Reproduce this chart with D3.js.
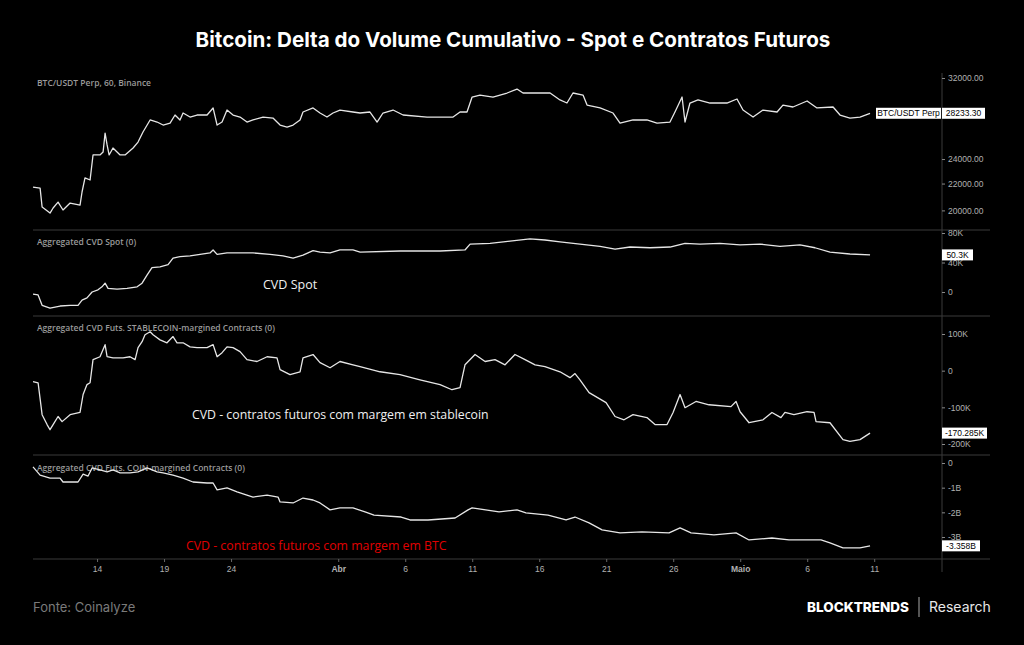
<!DOCTYPE html>
<html>
<head>
<meta charset="utf-8">
<script src="https://cdn.jsdelivr.net/npm/d3@7"></script>
<style>
  body { margin: 0; background: #000; }
  svg { display: block; }
  text { font-family: "Open Sans", "Noto Sans", sans-serif; }
</style>
</head>
<body>
<script>
// days counted from 1 Mar 2023 00:00 UTC
const priceDays = [8.22,8.75,8.9,9.49,9.72,10.09,10.46,10.99,11.73,11.88,12.1,12.48,12.7,13.22,13.45,13.6,13.75,13.9,14.19,14.72,15.09,15.69,16.06,16.43,16.96,17.48,17.93,18.45,18.82,19.19,19.42,19.94,20.46,21.21,21.66,21.96,22.33,22.7,23.15,23.67,24.19,24.64,25.39,26.13,26.66,27.18,27.63,28.15,28.37,29.12,29.64,30.16,30.61,31.13,32.1,32.63,33.37,33.9,34.34,35.09,35.84,37.63,39.57,40.09,40.61,40.99,41.58,42.55,43.6,44.34,44.79,45.54,46.81,47.55,48.07,48.52,49.27,49.57,50.54,51.51,52.03,53,54.04,54.79,55.76,56.13,56.66,56.88,57.25,57.85,58.75,60.01,60.76,61.21,61.96,62.7,63.75,64.19,64.94,65.99,66.73,67.93,68.45,69.19,69.94,70.69];
const priceValues = [21730,21650,20240,19810,20170,20600,20030,20530,20380,21350,22440,22280,24350,24350,24600,26320,25230,24350,24960,24350,24350,24960,25490,26420,27570,27370,27080,27270,28060,27570,28260,27860,28060,28060,28770,27080,27370,28560,28060,27860,27370,27570,27860,27760,27080,26890,27080,27570,28360,28770,28260,27860,28260,28560,28360,28260,28360,27370,28260,28560,28060,27860,27860,28360,28360,29910,30120,29910,30340,30770,30340,30340,30340,29600,29280,30340,30120,29070,28770,28260,27270,27570,27570,27270,27370,28360,29910,27370,29280,29600,29280,29280,29700,28560,27860,28560,28360,29070,28870,29490,28770,28870,28060,27760,27860,28233.3];

const spotDays = [8.22,8.6,8.9,9.49,10.24,10.99,11.58,11.88,12.25,12.63,13.07,13.37,13.6,13.82,14.49,15.24,15.99,16.36,16.73,17.1,17.7,18.3,18.67,19.19,19.94,20.69,21.43,21.66,21.96,22.7,23.67,24.64,25.91,26.88,27.63,28.37,29.12,29.64,30.39,31.13,32.1,32.63,35.61,38.6,40.46,40.84,42.33,43.82,45.31,46.43,47.55,49.04,50.54,51.66,52.78,54.27,55.76,56.88,58,59.49,60.99,62.48,63.97,65.46,66.58,67.7,69.19,70.69];
const spotValues = [-3,-4,-18,-22,-19,-18,-18,-11,-8,0,3,7,12,5,4,5,7,12,23,33,34,37,46,48,49,51,53,57,51,53,53,53,51,49,46,50,56,54,53,57,57,54,55.6,55.6,57,65,66,69,72,70.5,68,65,62,58,61,60,61,66,65,66,64,65,62,64,60,54,51.5,50.3];

const stableDays = [8.22,8.6,8.9,9.27,9.49,9.72,10.09,10.39,10.99,11.73,11.96,12.25,12.48,12.7,13.22,13.6,13.75,14.19,14.94,15.46,15.84,16.06,16.36,16.58,16.96,17.18,17.7,18.22,18.67,18.97,19.42,19.94,20.46,21.21,21.66,21.96,22.33,22.7,23.15,23.67,24.19,24.94,25.69,26.43,26.66,27.4,28.15,28.37,29.12,29.64,30.39,31.13,32.1,32.63,34.12,35.61,37.1,38.6,39.49,40.09,40.46,41.21,41.96,42.7,43.45,44.19,44.94,45.69,46.43,47.55,48.3,48.67,49.04,49.72,50.99,51.66,52.33,53,54.04,54.64,55.54,55.99,56.51,56.88,57.7,58.67,60.31,60.69,60.99,61.66,62.7,63.37,64.04,64.34,65.01,65.99,66.51,66.66,67.7,68.67,69.19,69.94,70.69];
const stableValues = [-30,-33,-120,-147,-161,-147,-125,-139,-120,-114,-65,-38,-33,30,38,71,38,35,35,38,30,63,79,98,106,98,84,76,93,76,76,65,63,63,71,38,49,65,63,52,30,25,38,35,3,-11,-3,35,44,22,8,25,16,11,-3,-11,-25,-38,-52,-46,16,44,25,30,16,44,30,16,11,-3,-19,-8,-25,-60,-87,-125,-134,-120,-128,-147,-147,-114,-65,-101,-84,-93,-98,-84,-112,-142,-134,-114,-128,-114,-120,-112,-114,-139,-142,-188,-193,-188,-170.285];

const coinDays = [8.22,8.75,9.49,10.24,10.46,11.58,11.96,12.33,12.63,13.22,13.75,14.19,14.72,15.46,16.06,16.73,17.48,17.93,18.67,19.42,20.16,21.21,21.66,21.96,22.7,23.45,24.64,25.69,26.51,26.66,27.63,28.37,29.12,29.64,30.39,31.13,32.1,33,33.67,35.69,36.36,37.7,39.72,40.69,40.99,43,44.34,45.01,46.66,48,48.67,49.72,50.69,52.03,53.67,55.69,56.51,57.33,59.04,60.69,61.66,63.37,64.64,65.99,67.03,67.7,68.67,69.94,70.69];
const coinValues = [-0.16,-0.49,-0.61,-0.61,-0.77,-0.77,-0.45,-0.53,-0.2,-0.28,-0.36,-0.28,-0.4,-0.4,-0.36,-0.2,-0.36,-0.4,-0.49,-0.61,-0.77,-0.81,-0.81,-1.09,-1.01,-1.17,-1.38,-1.3,-1.38,-1.58,-1.62,-1.42,-1.5,-1.62,-1.9,-1.82,-1.82,-1.98,-2.11,-2.19,-2.31,-2.31,-2.23,-1.9,-1.82,-1.98,-1.9,-2.02,-2.11,-2.31,-2.19,-2.43,-2.71,-2.83,-2.79,-2.83,-2.63,-2.83,-2.91,-2.83,-3.12,-3.04,-3.12,-3.12,-3.12,-3.24,-3.44,-3.44,-3.358];

const xTickDays = [13,18,23,31,36,41,46,51,56,61,66,71];
const xTickLabels = ["14","19","24","Abr","6","11","16","21","26","Maio","6","11"];

const priceTicks = [32000,24000,22000,20000];
const spotTicks = [80,40,0];
const stableTicks = [100,0,-100,-200];
const coinTicks = [0,-1,-2,-3];

const W = 1024, H = 645;
const t0 = Date.UTC(2023, 2, 1);
const toDate = d => new Date(t0 + d * 864e5);

const svg = d3.select("body").append("svg").attr("width", W).attr("height", H);
svg.append("rect").attr("width", W).attr("height", H).attr("fill", "#000");

const x = d3.scaleUtc().domain([toDate(8.22), toDate(76.06)]).range([33, 942]);

const gridColor = "#3a3a3a";
// pane separators
[230, 316, 455, 559].forEach(y => {
  svg.append("line").attr("x1", 33).attr("x2", 990).attr("y1", y).attr("y2", y)
    .attr("stroke", gridColor).attr("stroke-width", 1);
});
svg.append("line").attr("x1", 942).attr("x2", 942).attr("y1", 73).attr("y2", 572)
  .attr("stroke", gridColor).attr("stroke-width", 1);

// title
svg.append("text").attr("x", 513).attr("y", 47).attr("text-anchor", "middle")
  .attr("fill", "#fff").attr("font-size", 20.6).attr("font-weight", 700)
  .style("font-family", "Inter, sans-serif")
  .text("Bitcoin: Delta do Volume Cumulativo - Spot e Contratos Futuros");

const panes = [
  { days: priceDays, vals: priceValues, y: d3.scaleLog().domain([32000, 20000]).range([78, 210.4]),
    ticks: priceTicks, fmt: d => d.toFixed(2), title: "BTC/USDT Perp, 60, Binance", titleY: 86,
    last: "28233.30", boxW: 43, tag: "BTC/USDT Perp" },
  { days: spotDays, vals: spotValues, y: d3.scaleLinear().domain([80, 0]).range([233, 292]),
    ticks: spotTicks, fmt: d => d === 0 ? "0" : d + "K", title: "Aggregated CVD Spot (0)", titleY: 245,
    last: "50.3K", boxW: 31 },
  { days: stableDays, vals: stableValues, y: d3.scaleLinear().domain([100, -200]).range([334, 444]),
    ticks: stableTicks, fmt: d => d === 0 ? "0" : d + "K", title: "Aggregated CVD Futs. STABLECOIN-margined Contracts (0)", titleY: 331,
    last: "-170.285K", boxW: 45 },
  { days: coinDays, vals: coinValues, y: d3.scaleLinear().domain([0, -3]).range([463, 537]),
    ticks: coinTicks, fmt: d => d === 0 ? "0" : d + "B", title: "Aggregated CVD Futs. COIN-margined Contracts (0)", titleY: 471,
    last: "-3.358B", boxW: 38 }
];

panes.forEach(p => {
  const data = p.days.map((d, i) => ({ t: toDate(d), v: p.vals[i] }));

  svg.append("text").attr("x", 37).attr("y", p.titleY).attr("fill", "#9a9a9a")
    .attr("font-size", 8.5).attr("font-weight", 600).text(p.title);

  const axis = d3.axisRight(p.y).tickValues(p.ticks).tickFormat(p.fmt).tickSize(3).tickPadding(3);
  const g = svg.append("g").attr("transform", "translate(942,0)").call(axis);
  g.select(".domain").remove();
  g.selectAll("line").attr("stroke", "#888");
  g.selectAll("text").attr("fill", "#b0b0b0").attr("font-size", 8.5)
    .style("font-family", "'Liberation Sans', Arial, sans-serif");

  const line = d3.line().x(d => x(d.t)).y(d => p.y(d.v));
  svg.append("path").datum(data).attr("d", line).attr("fill", "none")
    .attr("stroke", "#e6e6e6").attr("stroke-width", 1.3).attr("stroke-linejoin", "round");

  // last value tag
  const last = data[data.length - 1];
  const ly = p.y(last.v);
  const tg = svg.append("g").attr("transform", `translate(942,${ly})`);
  tg.append("rect").attr("x", 0).attr("y", -5.5).attr("width", p.boxW).attr("height", 11).attr("fill", "#fff");
  tg.append("text").attr("x", p.boxW / 2).attr("y", 3.2).attr("text-anchor", "middle")
    .attr("fill", "#000").attr("font-size", 8.5)
    .style("font-family", "'Liberation Sans', Arial, sans-serif").text(p.last);
  if (p.tag) {
    tg.append("rect").attr("x", -66).attr("y", -5.5).attr("width", 65).attr("height", 11).attr("fill", "#fff");
    tg.append("text").attr("x", -33.5).attr("y", 3.2).attr("text-anchor", "middle")
      .attr("fill", "#000").attr("font-size", 8.5)
      .style("font-family", "'Liberation Sans', Arial, sans-serif").text(p.tag);
  }
});

// x axis
const xa = d3.axisBottom(x).tickValues(xTickDays.map(toDate))
  .tickFormat((d, i) => xTickLabels[i]).tickSize(3).tickPadding(4);
const xg = svg.append("g").attr("transform", "translate(0,559)").call(xa);
xg.select(".domain").remove();
xg.selectAll("line").attr("stroke", "#666");
xg.selectAll("text").attr("fill", "#b0b0b0").attr("font-size", 8.5)
  .style("font-family", "'Liberation Sans', Arial, sans-serif")
  .attr("font-weight", (d, i) => (xTickLabels[i] === "Abr" || xTickLabels[i] === "Maio") ? 700 : 400);

// annotations
svg.append("text").attr("x", 263).attr("y", 289).attr("fill", "#f0f0f0").attr("font-size", 12.5)
  .text("CVD Spot");
svg.append("text").attr("x", 192).attr("y", 419).attr("fill", "#f0f0f0").attr("font-size", 12.3)
  .text("CVD - contratos futuros com margem em stablecoin");
svg.append("text").attr("x", 186).attr("y", 550).attr("fill", "#e00000").attr("font-size", 12.3)
  .text("CVD - contratos futuros com margem em BTC");

// footer
svg.append("text").attr("x", 33).attr("y", 612).attr("fill", "#7a7a7a").attr("font-size", 13)
  .style("font-family", "Inter, sans-serif").text("Fonte: Coinalyze");
svg.append("text").attr("x", 909).attr("y", 612).attr("text-anchor", "end").attr("fill", "#fff")
  .attr("font-size", 13.5).attr("font-weight", 800).style("font-family", "Inter, sans-serif").text("BLOCKTRENDS");
svg.append("line").attr("x1", 919).attr("x2", 919).attr("y1", 597).attr("y2", 617).attr("stroke", "#aaa");
svg.append("text").attr("x", 929).attr("y", 612).attr("fill", "#e8e8e8").attr("font-size", 14)
  .style("font-family", "Inter, sans-serif").text("Research");
</script>
</body>
</html>
